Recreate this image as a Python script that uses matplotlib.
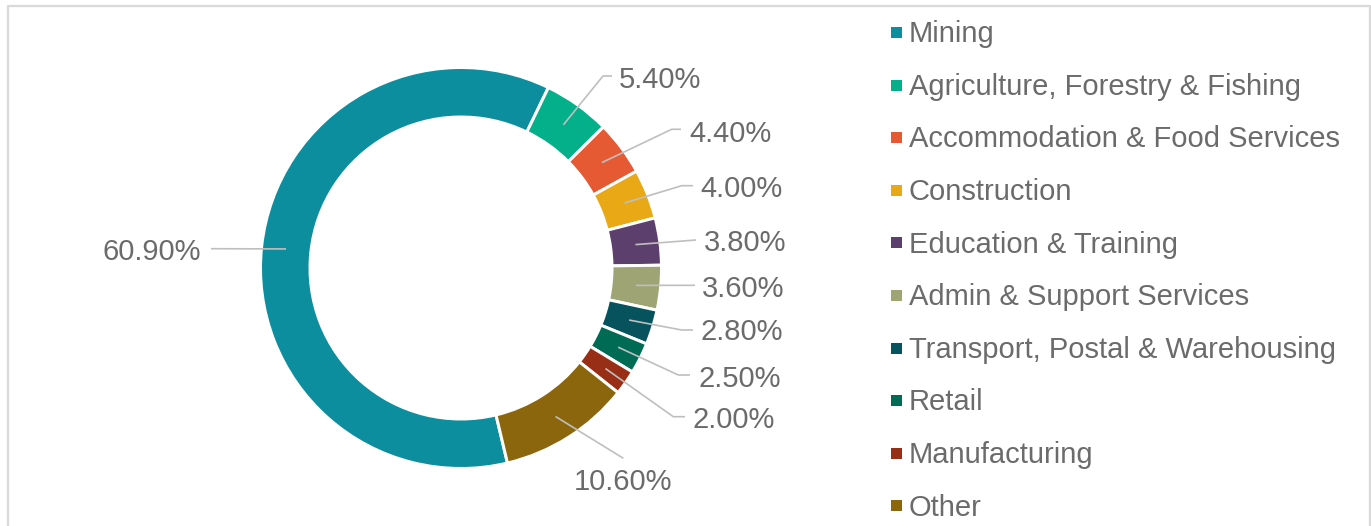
import matplotlib
matplotlib.use("Agg")
import matplotlib.pyplot as plt
from matplotlib.patches import Rectangle
import numpy as np

plt.rcParams['font.family'] = ['Liberation Sans', 'DejaVu Sans']

# ---- data ----
categories = ["Mining", "Agriculture, Forestry & Fishing", "Accommodation & Food Services",
              "Construction", "Education & Training", "Admin & Support Services",
              "Transport, Postal & Warehousing", "Retail", "Manufacturing", "Other"]
shares = [60.9, 5.4, 4.4, 4.0, 3.8, 3.6, 2.8, 2.5, 2.0, 10.6]
value_labels = ["60.90%", "5.40%", "4.40%", "4.00%", "3.80%", "3.60%",
                "2.80%", "2.50%", "2.00%", "10.60%"]
colors = ["#0C8E9E", "#03B08A", "#E55A33", "#E9A815", "#5C3F6D",
          "#9EA474", "#06535E", "#006B54", "#972E15", "#8B660D"]

# ---- layout (pixel coordinates, y measured from top) ----
W, H = 1371, 526
cx, cy_top = 461, 268
R_out, R_in = 199, 152.5
edge_px = 3.0
# label text anchor (x, y-centre), horizontal alignment, leader path after anchor
label_text = [(201, 250, 'right'), (619, 78, 'left'), (689, 132, 'left'),
              (700, 187, 'left'), (704, 241, 'left'), (702, 287, 'left'),
              (700, 330, 'left'), (698, 377, 'left'), (692, 418, 'left'),
              (623, 480, 'center')]
leader_paths = [[(211, 248.7)],
                [(603, 76), (612, 76)],
                [(671.7, 129.3), (681, 129.3)],
                [(681.7, 185.7), (693, 185.7)],
                [(696, 240)],
                [(695, 285.3)],
                [(681.7, 330), (693, 330)],
                [(678.3, 375), (690, 375)],
                [(673.3, 416.7), (685, 416.7)],
                [(623.3, 458.3)]]
text_color = "#6B6B6B"
line_color = "#BFBFBF"
fs = 21

fig = plt.figure(figsize=(W / 100, H / 100), dpi=100)
ax = fig.add_axes([0, 0, 1, 1])

def fy(y):
    return H - y

lw_pt = edge_px * 72 / 100
wedges, _ = ax.pie(shares, colors=colors, startangle=-76.6, counterclock=False,
                   radius=R_out + edge_px / 2, center=(cx, fy(cy_top)),
                   wedgeprops=dict(width=(R_out - R_in) + edge_px,
                                   edgecolor='white', linewidth=lw_pt))

r_mid = 176
for w, lab, (tx, ty, ha), path in zip(wedges, value_labels, label_text, leader_paths):
    ang = np.deg2rad((w.theta1 + w.theta2) / 2)
    ax0 = cx + r_mid * np.cos(ang)
    ay0 = fy(cy_top) + r_mid * np.sin(ang)
    xs = [ax0] + [p[0] for p in path]
    ys = [ay0] + [fy(p[1]) for p in path]
    ax.plot(xs, ys, color=line_color, lw=1.2, solid_capstyle='butt', zorder=3)
    ax.text(tx, fy(ty + 10.4), lab, ha=ha, va='baseline', fontsize=fs, color=text_color)

# legend
leg_x_sq, leg_x_txt = 890.5, 909
leg_y0, leg_dy = 32.5, 52.6
sq = 11
for i, (cat, col) in enumerate(zip(categories, colors)):
    yc = leg_y0 + i * leg_dy
    ax.add_patch(Rectangle((leg_x_sq, fy(yc) - sq / 2), sq, sq, facecolor=col,
                           edgecolor='none', zorder=3))
    ax.text(leg_x_txt, fy(yc + 9.7), cat, ha='left', va='baseline',
            fontsize=fs, color=text_color)

# chart border
ax.plot([7.7, 7.7, 1369.8, 1369.8], [fy(600), fy(5.8), fy(5.8), fy(600)],
        color="#D9D9D9", lw=1.6, clip_on=False, zorder=1)

ax.set_xlim(0, W)
ax.set_ylim(0, H)
ax.set_aspect('auto')
ax.axis('off')

fig.savefig("out.png", dpi=100, facecolor='white')
